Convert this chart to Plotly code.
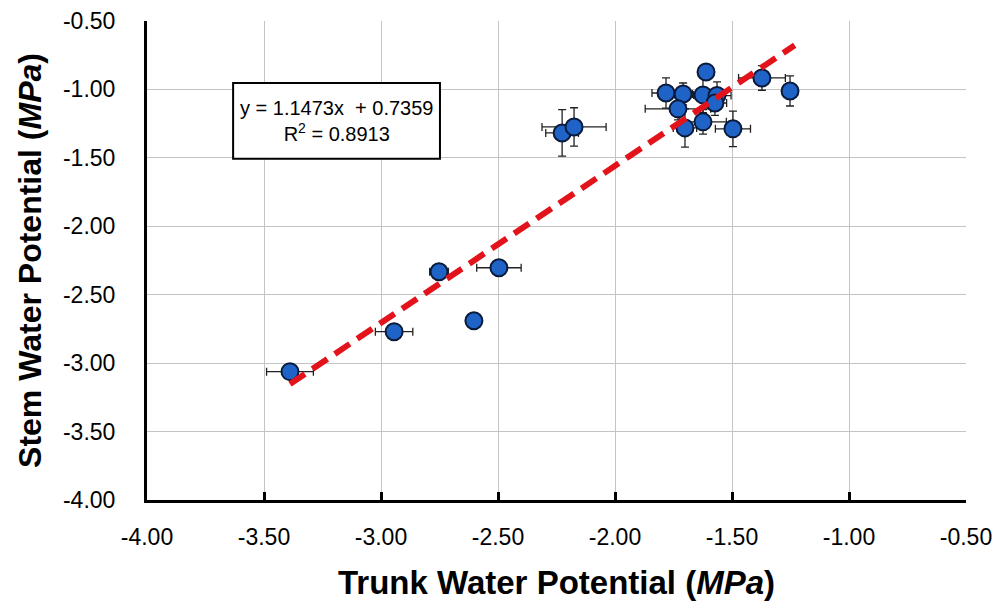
import plotly.graph_objects as go
import numpy as np

# Data
trunk = [-3.389, -2.944, -2.752, -2.496, -2.603, -2.226, -2.175, -1.611, -1.782, -1.709,
         -1.624, -1.564, -1.731, -1.573, -1.701, -1.624, -1.496, -1.372, -1.252]
stem = [-3.062, -2.770, -2.332, -2.303, -2.690, -1.318, -1.274, -0.872, -1.026, -1.033,
        -1.040, -1.045, -1.142, -1.099, -1.281, -1.237, -1.288, -0.916, -1.011]
trunk_err = [0.10, 0.08, 0.04, 0.095, 0.0, 0.07, 0.137, 0.03, 0.06, 0.04,
             0.04, 0.06, 0.14, 0.05, 0.05, 0.10, 0.075, 0.10, 0.03]
stem_err = [0.02, 0.03, 0.03, 0.02, 0.0, 0.17, 0.14, 0.05, 0.11, 0.08,
            0.13, 0.10, 0.08, 0.09, 0.14, 0.09, 0.13, 0.09, 0.11]

slope, intercept = 1.1473, 0.7359
r2 = 0.8913

x_ticks = [-4.0, -3.5, -3.0, -2.5, -2.0, -1.5, -1.0, -0.5]
y_ticks = [-4.0, -3.5, -3.0, -2.5, -2.0, -1.5, -1.0, -0.5]

fig = go.Figure()

xfit = np.array([min(trunk), max(trunk) + 0.02])
fig.add_trace(go.Scatter(
    x=trunk, y=stem, mode="markers",
    marker=dict(size=17, color="#1f63c6", line=dict(color="#0a1a3a", width=2)),
    error_x=dict(type="data", array=trunk_err, color="#222222", thickness=1.3, width=4),
    error_y=dict(type="data", array=stem_err, color="#222222", thickness=1.3, width=4),
    showlegend=False, hoverinfo="x+y"))

fig.add_trace(go.Scatter(
    x=xfit, y=slope * xfit + intercept, mode="lines",
    line=dict(color="#e3131b", width=6, dash="18px,9px"),
    showlegend=False))

# equation box
fig.add_shape(type="rect", xref="x", yref="y",
              x0=-3.632, x1=-2.748, y0=-0.953, y1=-1.507,
              fillcolor="white", line=dict(color="black", width=2), layer="above")
fig.add_annotation(
    x=-3.19, y=-1.23, xref="x", yref="y",
    text=f"y = {slope:.4f}x  + {intercept:.4f}<br>R<sup>2</sup> = {r2:.4f}",
    showarrow=False, font=dict(family="Liberation Sans, Arial", size=20, color="black"),
    align="center")

fig.update_layout(
    width=1005, height=602,
    margin=dict(l=147, r=39, t=21, b=102),
    paper_bgcolor="white", plot_bgcolor="white",
    font=dict(family="Liberation Sans, Arial", color="black"),
)
fig.update_xaxes(
    range=[-4.0, -0.5], tickvals=x_ticks, ticktext=[f"{v:.2f}" for v in x_ticks],
    showgrid=True, gridcolor="#c4c4c4", gridwidth=1,
    showline=True, linecolor="black", linewidth=3,
    ticks="inside", ticklen=8, tickwidth=3, tickcolor="black",
    tickfont=dict(size=23), ticklabelstandoff=14,
    zeroline=False, automargin=False,
    title=dict(text="<b>Trunk Water Potential (<i>MPa</i>)</b>",
               font=dict(size=33), standoff=23),
)
fig.update_yaxes(
    range=[-4.0, -0.5], tickvals=y_ticks, ticktext=[f"{v:.2f}" for v in y_ticks],
    showgrid=True, gridcolor="#c4c4c4", gridwidth=1,
    showline=True, linecolor="black", linewidth=3,
    ticks="", tickfont=dict(size=23), ticklabelstandoff=24,
    zeroline=False, automargin=False,
    title=dict(text="<b>Stem Water Potential (<i>MPa</i>)</b>",
               font=dict(size=32), standoff=12),
)

fig.write_html("out.html")
